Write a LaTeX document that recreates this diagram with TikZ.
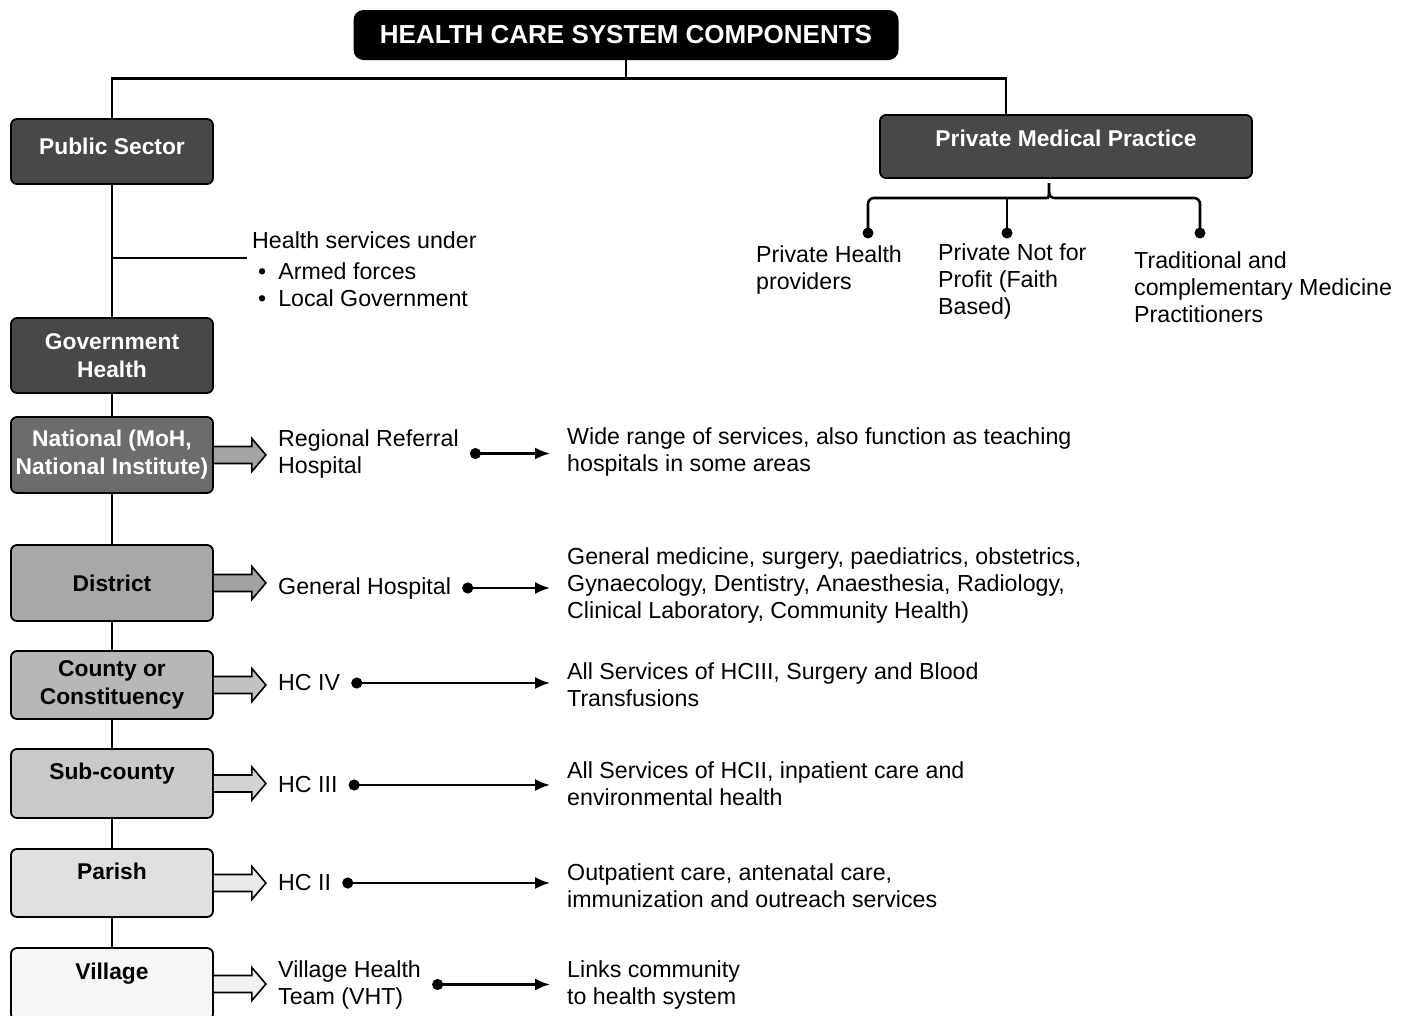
\documentclass[tikz,border=0pt]{standalone}
\usepackage{fontspec}
\setmainfont{Liberation Sans}
\usetikzlibrary{arrows.meta}
\definecolor{darkbox}{HTML}{48484B}
\definecolor{natbox}{HTML}{6C6C6F}
\definecolor{natarr}{HTML}{A4A4A6}
\definecolor{distbox}{HTML}{A8A8A8}
\definecolor{distarr}{HTML}{A2A2A2}
\definecolor{countybox}{HTML}{B7B7B7}
\definecolor{countyarr}{HTML}{C2C2C2}
\definecolor{subbox}{HTML}{C9C9C9}
\definecolor{subarr}{HTML}{D3D3D3}
\definecolor{parishbox}{HTML}{E0E0E2}
\definecolor{parisharr}{HTML}{E9E9E9}
\definecolor{villagebox}{HTML}{F6F6F6}
\definecolor{villagearr}{HTML}{F3F3F3}
\tikzset{
  every node/.style={font=\fontsize{23.2}{27}\selectfont},
  link/.style={line width=2.6pt},
  title/.style={fill=black, text=white, rounded corners=10pt, minimum width=545pt,
    minimum height=50pt, font=\fontsize{26}{30}\selectfont\bfseries},
  tier/.style={draw=black, line width=1.8pt, rounded corners=6pt, minimum width=202pt,
    align=center, font=\fontsize{22.8}{28}\selectfont\bfseries},
  darktier/.style={tier, fill=darkbox, text=white},
  plain/.style={inner sep=0pt, align=left},
  dotarrow/.style={line width=2.2pt, {Circle[length=11pt]}-{Latex[length=15pt,width=12pt]},
    shorten <=11pt, shorten >=17pt},
  blockarrow/.style={draw=black, line width=1.6pt, line join=miter}
}
\begin{document}
\begin{tikzpicture}[x=1pt,y=-1pt]
  \useasboundingbox (0,0) rectangle (1416,1015);
  \node[title] (hcs) at (626,35) {HEALTH CARE SYSTEM COMPONENTS};
  \node[darktier, minimum height=65pt, text depth=11pt] (pub) at (112,151.5) {Public Sector};
  \node[darktier, minimum width=372pt, minimum height=63pt, text depth=17pt] (pmp) at (1066,146.5) {Private Medical Practice};
  \draw[link] (hcs.south) -- ++(0,18) -| (pub.north);
  \draw[link] (hcs.south) ++(0,18) -| ([xshift=-60pt]pmp.north);

  % public side
  \node[darktier, minimum height=75pt] (gov) at (112,355.5) {Government\\Health};
  \node[tier, fill=natbox, text=white, minimum height=76pt] (nat) at (112,455) {National (MoH,\\National Institute)};
  \node[tier, fill=distbox, minimum height=76pt] (dist) at (112,583) {District};
  \node[tier, fill=countybox, minimum height=68pt] (county) at (112,685) {County or\\Constituency};
  \node[tier, fill=subbox, minimum height=69pt, text depth=24pt] (sub) at (112,783.5) {Sub-county};
  \node[tier, fill=parishbox, minimum height=68pt, text depth=24pt] (parish) at (112,883) {Parish};
  \node[tier, fill=villagebox, minimum height=72pt, text depth=26pt] (village) at (112,984) {Village};
  \foreach \a/\b in {pub/gov, gov/nat, nat/dist, dist/county, county/sub, sub/parish, parish/village}
    \draw[link] (\a.south) -- (\b.north);

  \node[plain, anchor=north west] (hsu) at (252,231)
    {Health services under\\[4pt]\hspace*{6pt}\textbullet\hspace{12pt}Armed forces\\\hspace*{6pt}\textbullet\hspace{12pt}Local Government};
  \coordinate (tap) at (112,258);
  \draw[link, shorten >=5pt] (tap) -- (tap -| hsu.west);

  \foreach \b/\c in {nat/natarr, dist/distarr, county/countyarr, sub/subarr, parish/parisharr, village/villagearr}
    \draw[blockarrow, fill=\c] (\b.east) ++(0,-8.5) -- ++(38,0) -- ++(0,-8) -- ++(14,16.5)
      -- ++(-14,16.5) -- ++(0,-8) -- ++(-38,0);

  \node[plain, anchor=west] (rrh) at (278,453.5) {Regional Referral\\Hospital};
  \node[plain, anchor=west] (gh) at (278,588) {General Hospital};
  \node[plain, anchor=west] (hc4) at (278,683) {HC IV};
  \node[plain, anchor=west] (hc3) at (278,785) {HC III};
  \node[plain, anchor=west] (hc2) at (278,883) {HC II};
  \node[plain, anchor=west] (vht) at (278,984.5) {Village Health\\Team (VHT)};

  \node[plain, anchor=west] (rrhinfo) at (567,451.5) {Wide range of services, also function as teaching\\hospitals in some areas};
  \node[plain, anchor=west] (ghinfo) at (567,585.5) {General medicine, surgery, paediatrics, obstetrics,\\Gynaecology, Dentistry, Anaesthesia, Radiology,\\Clinical Laboratory, Community Health)};
  \node[plain, anchor=west] (hc4info) at (567,685) {All Services of HCIII, Surgery and Blood\\Transfusions};
  \node[plain, anchor=west] (hc3info) at (567,783.5) {All Services of HCII, inpatient care and\\environmental health};
  \node[plain, anchor=west] (hc2info) at (567,885.5) {Outpatient care, antenatal care,\\immunization and outreach services};
  \node[plain, anchor=west] (vhtinfo) at (567,984.5) {Links community\\to health system};
  \foreach \m in {rrh, gh, hc4, hc3, hc2, vht}
    \draw[dotarrow] (\m.east) -- (\m.east -| \m info.west);

  % private side
  \coordinate (tip) at (1049,183);
  \coordinate (barl) at (1040,198);
  \coordinate (barr) at (1058,198);
  \coordinate (phdot) at (868,233);
  \coordinate (pnpdot) at (1007,233);
  \coordinate (traddot) at (1200,233);
  \draw[link] (phdot) [rounded corners=6pt] |- (barl) [sharp corners]
    .. controls (1049,198) .. (tip) .. controls (1049,198) .. (barr) [rounded corners=6pt] -| (traddot);
  \draw[link] (pnpdot) -- (pnpdot |- barl);
  \foreach \d in {phdot, pnpdot, traddot}
    \fill (\d) circle (5.5pt);
  \node[plain, anchor=west] (ph) at (756,269.5) {Private Health\\providers};
  \node[plain, anchor=west] (pnp) at (938,281) {Private Not for\\Profit (Faith\\Based)};
  \node[plain, anchor=west] (trad) at (1134,287.5) {Traditional and\\complementary Medicine\\Practitioners};
\end{tikzpicture}
\end{document}
